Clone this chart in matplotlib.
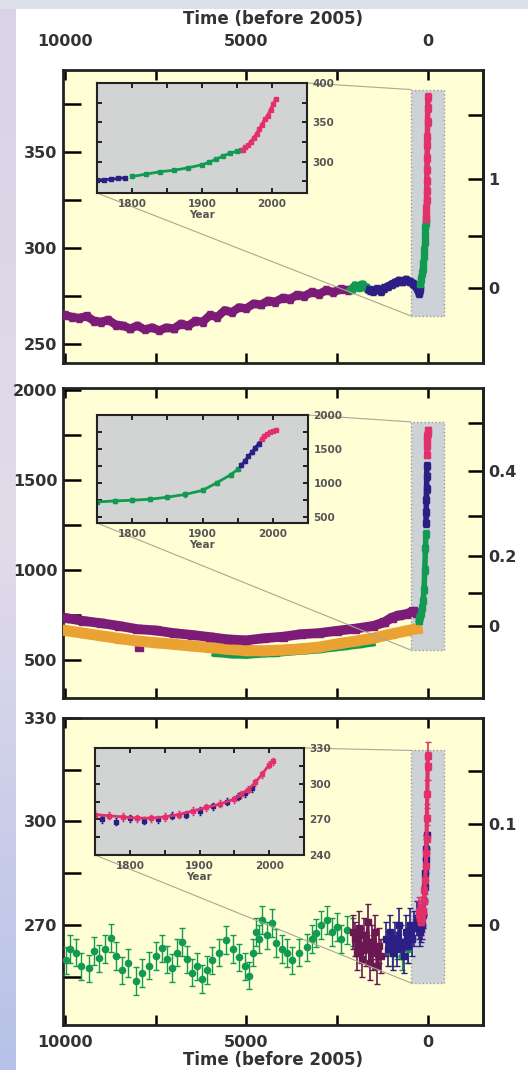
import numpy as np
import matplotlib.pyplot as plt
from matplotlib.patches import Rectangle, ConnectionPatch
from matplotlib.colors import LinearSegmentedColormap

plt.rcParams['font.family'] = ['DejaVu Sans']
plt.rcParams['font.weight'] = 'bold'
plt.rcParams['axes.labelweight'] = 'bold'

# ---- CO2 (ppm), time in years before 2005
co2_old_t = [10000, 9800, 9600, 9400, 9200, 9000, 8800, 8600, 8400, 8200, 8000, 7800, 7600, 7400,
             7200, 7000, 6800, 6600, 6400, 6200, 6000, 5800, 5600, 5400, 5200, 5000, 4800, 4600,
             4400, 4200, 4000, 3800, 3600, 3400, 3200, 3000, 2800, 2600, 2400, 2200]
co2_old_v = [265, 264, 263.5, 264.5, 262, 261.5, 262.5, 260, 259.5, 258, 259.5, 257.5, 258.5, 257,
             258.5, 258, 260.5, 259.5, 262, 261.5, 265, 264, 267.5, 266.5, 269, 268.5, 271, 270.5,
             272.5, 272, 274, 273.5, 275.5, 275, 277, 276, 278, 277, 278.5, 278]
co2_mid_t = [2100, 2000, 1900, 1800, 1700]
co2_mid_v = [278.5, 280.5, 279.5, 281, 279.5]
co2_law_t = [1600, 1500, 1400, 1300, 1200, 1100, 1000, 900, 800, 700, 600, 500, 400, 300]
co2_law_v = [278, 277.5, 278.5, 277.5, 279, 280, 281, 282, 283, 282.5, 283.5, 282.5, 281.5, 279]
# recent CO2, calendar years
co2_blue_yr = [1750, 1760, 1770, 1780, 1790]
co2_blue_v = [276.5, 277, 277.5, 278.5, 279.5]
co2_green_yr = [1800, 1820, 1840, 1860, 1880, 1900, 1910, 1920, 1930, 1940, 1950, 1955]
co2_green_v = [281, 284, 287, 289, 292, 296, 299, 303, 307, 311, 313, 315]
co2_red_yr = [1958, 1962, 1966, 1970, 1974, 1978, 1982, 1986, 1990, 1994, 1998, 2002, 2005]
co2_red_v = [315, 318, 321, 325, 330, 335, 341, 347, 354, 358, 366, 373, 379]

# ---- CH4 (ppb)
ch4_purple_t = [10000, 9500, 9000, 8500, 8000, 7500, 7000, 6500, 6000, 5500, 5000, 4500, 4000,
                3500, 3000, 2500, 2000, 1500, 1200, 1000, 800, 600, 400, 300]
ch4_purple_v = [735, 718, 705, 690, 672, 665, 650, 640, 628, 615, 610, 622, 630, 644, 650, 663,
                675, 690, 710, 735, 748, 755, 770, 760]
ch4_orange_t = [10000, 9500, 9000, 8500, 8000, 7500, 7000, 6500, 6000, 5500, 5000, 4500, 4000,
                3500, 3000, 2500, 2000, 1500, 1000, 600, 300]
ch4_orange_v = [665, 650, 635, 620, 606, 597, 588, 578, 570, 560, 553, 552, 556, 562, 572, 590,
                605, 622, 645, 662, 675]
ch4_green_t = [5800, 5400, 5000, 4600, 4200, 3800, 3400, 3000, 2600, 2300, 1900, 1600]
ch4_green_v = [548, 540, 538, 544, 548, 556, 562, 568, 578, 585, 595, 604]
ch4_green_yr = [1750, 1775, 1800, 1825, 1850, 1875, 1900, 1920, 1940, 1950]
ch4_green_rv = [720, 735, 745, 760, 790, 830, 890, 1000, 1120, 1200]
ch4_blue_yr = [1955, 1960, 1965, 1970, 1975, 1980]
ch4_blue_rv = [1260, 1320, 1390, 1450, 1520, 1580]
ch4_red_yr = [1984, 1988, 1992, 1996, 2000, 2005]
ch4_red_rv = [1640, 1690, 1720, 1745, 1760, 1775]

# ---- N2O (ppb)
n2o_green_t = [9970, 9850, 9700, 9550, 9340, 9200, 9060, 8900, 8730, 8580, 8420, 8250, 8040, 7880,
               7680, 7500, 7320, 7180, 7040, 6900, 6770, 6630, 6490, 6350, 6220, 6080, 5940, 5750,
               5550, 5380, 5190, 5050, 4920, 4820, 4720, 4640, 4560, 4420, 4280, 4170, 4030, 3890,
               3730, 3550, 3340, 3200, 3070, 2930, 2790, 2650, 2510, 2380, 2240, 2070,
               1000, 850, 700, 550]
n2o_green_v = [259.7, 263, 262, 258, 257.4, 262.5, 260.3, 263, 266.2, 261, 256.8, 259, 253.8, 256,
               258.2, 261, 263.2, 260, 257.6, 262, 265, 260, 256.2, 258, 254.4, 257, 259.7, 262,
               265.6, 263, 260.6, 258, 255.3, 262, 268, 266, 271.5, 267, 270.6, 264.7, 263, 261.8,
               259.7, 262, 263.5, 266, 267.6, 270, 271.5, 268, 269.4, 266, 268.5, 268,
               262, 264, 261, 263]
n2o_maroon_t = [2050, 2000, 1950, 1900, 1850, 1800, 1750, 1700, 1650, 1600, 1550, 1500, 1450,
                1400, 1350, 1300]
n2o_maroon_v = [268, 266, 262, 269, 264, 260, 267, 263, 271, 259, 265, 262, 268, 258, 264, 261]
n2o_blue_t = [1150, 1090, 1030, 970, 910, 850, 790, 730, 670, 610, 550, 490, 430, 370, 310]
n2o_blue_v = [266, 263, 268, 262, 266, 263, 270, 265, 261, 268, 264, 270, 266, 269, 272]
n2o_pink_yr = [1750, 1770, 1790, 1810, 1830, 1850, 1870, 1890, 1910, 1930, 1950, 1960, 1970,
               1980, 1990, 2000, 2005]
n2o_pink_v = [274, 273, 272, 271, 271, 272, 274, 277, 280, 283, 287, 291, 295, 301, 308, 316, 319]
n2o_blue_yr = [1760, 1780, 1800, 1820, 1840, 1860, 1880, 1900, 1920, 1940, 1955, 1965, 1975]
n2o_blue_rv = [270, 268, 271, 269, 270, 273, 274, 277, 281, 285, 289, 292, 296]

yellow = '#fffed4'
grey_in = '#d2d4d4'
txt = '#333333'
purple = '#7d1b78'
navy = '#2b1f86'
green = '#139a52'
red = '#e3306b'
orange = '#eaa232'
maroon = '#6a1752'


def bp(years):
    return [2005 - y for y in years]


W, H = 528, 1070
fig = plt.figure(figsize=(W / 100, H / 100), dpi=100, facecolor='white')

# slide background bits
strip = fig.add_axes([0, 0, 16 / W, 1])
grad = np.linspace(0, 1, 256).reshape(-1, 1)
strip.imshow(grad, aspect='auto', origin='lower',
             cmap=LinearSegmentedColormap.from_list('s', ['#b7c2e8', '#e2dbea', '#d9d3e6']))
strip.axis('off')
fig.patches.append(Rectangle((0, 1 - 9 / H), 1, 9 / H, transform=fig.transFigure,
                             facecolor='#dde0ea', edgecolor='none'))


def fpos(l, r, t, b):
    return [l / W, 1 - b / H, (r - l) / W, (b - t) / H]


def main_axes(pos, ylim, yticks, ylabels):
    ax = fig.add_axes(pos)
    ax.set_facecolor(yellow)
    ax.set_xlim(10050, -1520)
    ax.set_ylim(*ylim)
    ax.set_xticks([10000, 7500, 5000, 2500, 0])
    ax.set_xticklabels(['10000', '', '5000', '', '0'])
    ax.set_yticks(yticks)
    ax.set_yticklabels(ylabels)
    ax.tick_params(axis='y', direction='in', length=13, width=1.8, right=False, pad=4,
                   labelsize=11.5, labelcolor=txt)
    ax.tick_params(axis='x', direction='in', length=7, width=1.8, top=True, bottom=True,
                   labelbottom=False, labelsize=11.5, labelcolor=txt)
    for s in ax.spines.values():
        s.set_linewidth(2)
        s.set_color('#222222')
    return ax


def right_axis(ax, fwd, inv, ticks, labels):
    sec = ax.secondary_yaxis('right', functions=(fwd, inv))
    sec.set_yticks(ticks)
    sec.set_yticklabels(labels)
    sec.tick_params(direction='in', length=11, width=1.8, pad=4, labelsize=11.5, labelcolor=txt)
    sec.spines['right'].set_linewidth(2)
    return sec


def inset_axes(pos, ylim, yticks, ylabels):
    ins = fig.add_axes(pos, zorder=5)
    ins.set_facecolor(grey_in)
    ins.set_xlim(1750, 2050)
    ins.set_ylim(*ylim)
    ins.set_xticks([1800, 1850, 1900, 1950, 2000])
    ins.set_xticklabels(['1800', '', '1900', '', '2000'])
    ins.set_yticks(yticks)
    ins.set_yticklabels(ylabels)
    ins.yaxis.tick_right()
    ins.tick_params(axis='both', direction='in', length=3.5, width=1.2, labelsize=7.5,
                    labelcolor='#555555', left=True, right=True, top=True, bottom=True, pad=4)
    ins.set_xlabel('Year', fontsize=7.5, color='#555555', labelpad=1)
    for s in ins.spines.values():
        s.set_linewidth(1.5)
        s.set_color('#222222')
    return ins


def zoom_box(ax, ins, y0, y1):
    ax.add_patch(Rectangle((470, y0), -910, y1 - y0, facecolor='#cdd2d6', edgecolor='#9a9a9a',
                           linestyle=':', linewidth=1, zorder=1))
    for a, b in [((1, 1), (470, y1)), ((0, 0), (470, y0))]:
        con = ConnectionPatch(xyA=a, coordsA=ins.transAxes, xyB=b, coordsB=ax.transData,
                              color='#a9a793', linewidth=0.8, zorder=2)
        fig.add_artist(con)


def band(ax, t, v, c, err, lw=6, ms=5):
    ax.errorbar(t, v, yerr=err, fmt='s-', color=c, ms=ms, lw=lw, elinewidth=1.2,
                capsize=2, zorder=3)


# ---------------- CO2
ax1 = main_axes(fpos(63, 483, 70, 363), (240, 393),
                [250, 275, 300, 325, 350, 375], ['250', '', '300', '', '350', ''])
ax1.tick_params(axis='x', labeltop=True, pad=15)
ax1.xaxis.set_label_position('top')
ax1.set_xlabel('Time (before 2005)', fontsize=12, color=txt, labelpad=7)
band(ax1, co2_old_t, co2_old_v, purple, 2)
band(ax1, co2_mid_t, co2_mid_v, green, 2)
band(ax1, co2_law_t, co2_law_v, navy, 2)
band(ax1, bp(co2_blue_yr), co2_blue_v, navy, 2, lw=4)
band(ax1, bp(co2_green_yr), co2_green_v, green, 2, lw=4)
band(ax1, bp(co2_red_yr), co2_red_v, red, 2, lw=4)
right_axis(ax1, lambda c: 5.35 * np.log(np.maximum(c, 1) / 279.0),
           lambda f: 279.0 * np.exp(f / 5.35), [0, 0.5, 1, 1.5], ['0', '', '1', ''])
ins1 = inset_axes(fpos(97, 307, 83, 193), (260, 400),
                  [275, 300, 325, 350, 375, 400], ['', '300', '', '350', '', '400'])
ins1.plot(co2_blue_yr, co2_blue_v, 's-', color=navy, ms=2.5, lw=2)
ins1.plot(co2_green_yr, co2_green_v, 's-', color=green, ms=2.5, lw=2)
ins1.plot(co2_red_yr, co2_red_v, 's-', color=red, ms=2.5, lw=2.5)
zoom_box(ax1, ins1, 264.6, 382.8)

# ---------------- CH4
ax2 = main_axes(fpos(63, 483, 388, 698), (290, 2010),
                [500, 750, 1000, 1250, 1500, 1750, 2000],
                ['500', '', '1000', '', '1500', '', '2000'])
band(ax2, ch4_green_t, ch4_green_v, green, 18, lw=8, ms=6)
band(ax2, ch4_orange_t, ch4_orange_v, orange, 18, lw=8, ms=6)
band(ax2, ch4_purple_t, ch4_purple_v, purple, 18, lw=7, ms=6)
ax2.errorbar([7950], [575], yerr=[20], fmt='s', color=purple, ms=6, capsize=2)
band(ax2, bp(ch4_green_yr), ch4_green_rv, green, 20, lw=4, ms=5)
band(ax2, bp(ch4_blue_yr), ch4_blue_rv, navy, 20, lw=4, ms=5)
band(ax2, bp(ch4_red_yr), ch4_red_rv, red, 20, lw=4, ms=5)
right_axis(ax2, lambda m: 0.0305 * (np.sqrt(np.maximum(m, 0)) - np.sqrt(689.0)),
           lambda f: (f / 0.0305 + np.sqrt(689.0)) ** 2,
           [0, 0.1, 0.2, 0.3, 0.4, 0.5], ['0', '', '0.2', '', '0.4', ''])
ins2 = inset_axes(fpos(97, 308, 415, 523), (410, 2000),
                  [500, 750, 1000, 1250, 1500, 1750, 2000],
                  ['500', '', '1000', '', '1500', '', '2000'])
ins2.errorbar(ch4_green_yr, ch4_green_rv, yerr=30, fmt='s-', color=green, ms=2.5, lw=2,
              elinewidth=0.8, capsize=1)
ins2.errorbar(ch4_blue_yr, ch4_blue_rv, yerr=30, fmt='s-', color=navy, ms=2.5, lw=2,
              elinewidth=0.8, capsize=1)
ins2.plot(ch4_red_yr, ch4_red_rv, 's-', color=red, ms=2.5, lw=2.5)
zoom_box(ax2, ins2, 556, 1822)

# ---------------- N2O
ax3 = main_axes(fpos(63, 483, 718, 1025), (241, 330),
                [255, 270, 285, 300, 315, 330], ['', '270', '', '300', '', '330'])
ax3.tick_params(axis='x', labelbottom=True, pad=7)
ax3.set_xlabel('Time (before 2005)', fontsize=12, color=txt, labelpad=1)
ax3.errorbar(n2o_green_t, n2o_green_v, yerr=4, fmt='o', color=green, ms=4.5,
             elinewidth=1, capsize=2.5, zorder=3)
ax3.errorbar(n2o_maroon_t, n2o_maroon_v, yerr=5, fmt='s-', color=maroon, ms=4.5, lw=2,
             elinewidth=1.2, capsize=2.5, zorder=3)
ax3.errorbar(n2o_blue_t, n2o_blue_v, yerr=5, fmt='s-', color=navy, ms=4.5, lw=2,
             elinewidth=1.2, capsize=2.5, zorder=3)
ax3.errorbar(bp(n2o_blue_yr), n2o_blue_rv, yerr=4, fmt='s-', color=navy, ms=4.5, lw=3,
             elinewidth=1.2, capsize=2.5, zorder=3)
ax3.errorbar(bp(n2o_pink_yr), n2o_pink_v, yerr=4, fmt='s-', color=red, ms=4.5, lw=3,
             elinewidth=1.2, capsize=2.5, zorder=3)
right_axis(ax3, lambda n: 0.115 * (np.sqrt(np.maximum(n, 0)) - np.sqrt(270.0)),
           lambda f: (f / 0.115 + np.sqrt(270.0)) ** 2,
           [0, 0.05, 0.1, 0.15], ['0', '', '0.1', ''])
ins3 = inset_axes(fpos(95, 304, 748, 855), (240, 330),
                  [240, 255, 270, 285, 300, 315, 330], ['240', '', '270', '', '300', '', '330'])
ins3.errorbar(n2o_blue_yr, n2o_blue_rv, yerr=3, fmt='s', color=navy, ms=2.5,
              elinewidth=0.8, capsize=1)
ins3.errorbar(n2o_pink_yr, n2o_pink_v, yerr=3, fmt='s-', color=red, ms=2.5, lw=2,
              elinewidth=0.8, capsize=1)
zoom_box(ax3, ins3, 253.2, 320.6)

fig.savefig('out.png', dpi=100, facecolor=fig.get_facecolor())
